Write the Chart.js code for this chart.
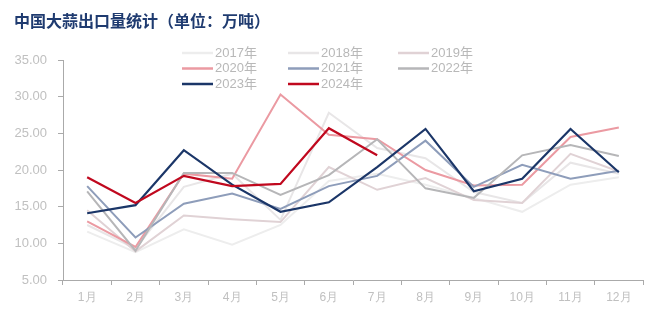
<!DOCTYPE html>
<html>
<head>
<meta charset="utf-8">
<script src="https://cdn.jsdelivr.net/npm/chart.js@4"></script>
<style>
    body { margin: 0; background: #fff; }
    #wrap { width: 660px; height: 327px; position: relative; }
</style>
</head>
<body>
<div id="wrap"><canvas id="exportChart"></canvas></div>
<script>
// Data (万吨)
const months = ['1月', '2月', '3月', '4月', '5月', '6月', '7月', '8月', '9月', '10月', '11月', '12月'];
const y2017 = [11.6, 8.8, 11.9, 9.8, 12.5, 18.5, 19.5, 18.0, 16.2, 14.3, 18.0, 19.0];
const y2018 = [12.5, 9.3, 17.7, 19.5, 13.2, 27.8, 23.0, 21.6, 17.0, 15.5, 21.0, 19.5];
const y2019 = [14.5, 8.9, 13.8, 13.3, 12.9, 20.4, 17.3, 18.9, 15.9, 15.5, 22.2, 19.8];
const y2020 = [13.0, 9.5, 19.5, 18.8, 30.3, 24.8, 24.2, 20.0, 17.9, 18.0, 24.5, 25.8];
const y2021 = [17.8, 10.8, 15.4, 16.8, 14.7, 17.8, 19.2, 24.0, 17.7, 20.7, 18.8, 19.9];
const y2022 = [17.1, 9.0, 19.6, 19.6, 16.6, 19.3, 24.2, 17.5, 16.2, 22.0, 23.4, 21.9];
const y2023 = [14.1, 15.2, 22.7, 18.0, 14.3, 15.6, 20.4, 25.6, 17.1, 18.8, 25.6, 19.7];
const y2024 = [19.0, 15.5, 19.2, 17.8, 18.1, 25.7, 22.0];
const yTicks = { min: 5, max: 35, step: 5 };

const titleText = '中国大蒜出口量统计（单位：万吨）';

const series = [
    { label: '2017年', data: y2017, color: '#ededed', width: 2 },
    { label: '2018年', data: y2018, color: '#e8e6e7', width: 2 },
    { label: '2019年', data: y2019, color: '#e0d2d5', width: 2 },
    { label: '2020年', data: y2020, color: '#eb9aa2', width: 2 },
    { label: '2021年', data: y2021, color: '#8e9dba', width: 2 },
    { label: '2022年', data: y2022, color: '#b6b6b8', width: 2 },
    { label: '2023年', data: y2023, color: '#1b3668', width: 2.2 },
    { label: '2024年', data: y2024, color: '#c0081e', width: 2.2 }
];

// title + 3-column legend drawn on the canvas
const headerPlugin = {
    id: 'header',
    afterDraw(chart) {
        const ctx = chart.ctx;
        ctx.save();
        ctx.fillStyle = '#1f3b70';
        ctx.font = 'bold 16px "Noto Sans CJK SC"';
        ctx.textBaseline = 'middle';
        ctx.textAlign = 'left';
        ctx.fillText(titleText, 14, 21);

        const colX = [182, 288, 398];
        const rowY = [53, 68.5, 84];
        ctx.font = '13px "Liberation Sans", "Noto Sans CJK SC"';
        series.forEach((s, i) => {
            const x = colX[i % 3];
            const y = rowY[Math.floor(i / 3)];
            ctx.strokeStyle = s.color;
            ctx.lineWidth = 2.5;
            ctx.beginPath();
            ctx.moveTo(x, y);
            ctx.lineTo(x + 31, y);
            ctx.stroke();
            ctx.fillStyle = '#b8b8b8';
            ctx.fillText(s.label, x + 33, y);
        });
        ctx.restore();
    }
};

const ctx = document.getElementById('exportChart').getContext('2d');
const exportChart = new Chart(ctx, {
    type: 'line',
    data: {
        labels: months,
        datasets: series.map((s, i) => ({
            label: s.label,
            data: s.data,
            borderColor: s.color,
            backgroundColor: s.color,
            borderWidth: s.width,
            pointRadius: 0,
            tension: 0,
            fill: false,
            order: series.length - i
        }))
    },
    options: {
        responsive: true,
        maintainAspectRatio: false,
        animation: false,
        layout: {
            padding: { top: 60, right: 17, left: 0, bottom: 0 }
        },
        scales: {
            x: {
                offset: true,
                grid: { offset: true, drawOnChartArea: false, tickLength: 5, color: '#aaaaaa' },
                border: { color: '#aaaaaa' },
                ticks: { color: '#c0c0c0', padding: 5, font: { size: 12 } },
                afterFit: (s) => { s.height = 47; }
            },
            y: {
                min: yTicks.min,
                max: yTicks.max,
                grid: { drawOnChartArea: false, tickLength: 5, color: '#aaaaaa' },
                border: { color: '#aaaaaa' },
                ticks: {
                    stepSize: yTicks.step,
                    color: '#c0c0c0',
                    padding: 11,
                    font: { size: 13, family: '"Liberation Sans"' },
                    callback: (v) => v.toFixed(2)
                },
                afterFit: (s) => { s.width = 63; }
            }
        },
        plugins: {
            legend: { display: false },
            tooltip: { enabled: false }
        }
    },
    plugins: [headerPlugin]
});
</script>
</body>
</html>
